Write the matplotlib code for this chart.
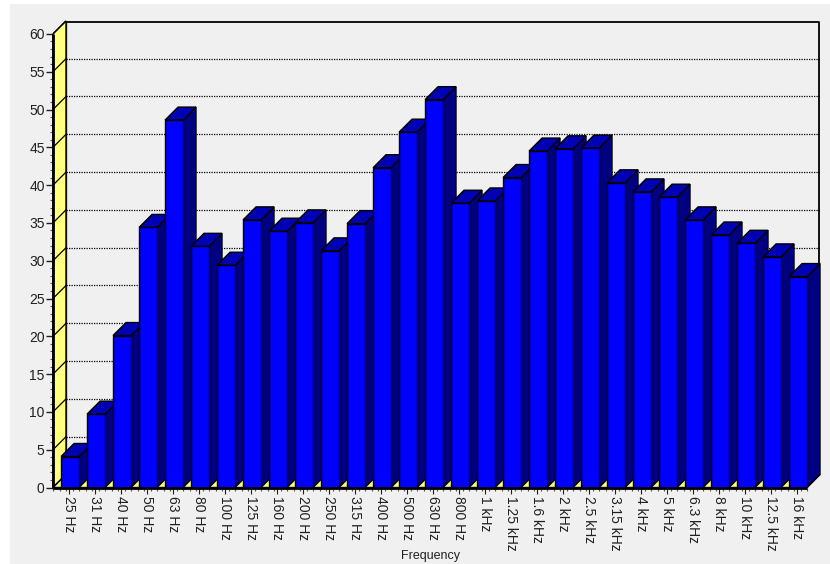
import matplotlib
matplotlib.use("Agg")
import matplotlib.pyplot as plt
from matplotlib.patches import Polygon, Rectangle

# data
bands = ["25 Hz", "31 Hz", "40 Hz", "50 Hz", "63 Hz", "80 Hz", "100 Hz", "125 Hz",
         "160 Hz", "200 Hz", "250 Hz", "315 Hz", "400 Hz", "500 Hz", "630 Hz",
         "800 Hz", "1 kHz", "1.25 kHz", "1.6 kHz", "2 kHz", "2.5 kHz", "3.15 kHz",
         "4 kHz", "5 kHz", "6.3 kHz", "8 kHz", "10 kHz", "12.5 kHz", "16 kHz"]
levels = [4.1, 9.7, 20.1, 34.4, 48.6, 31.9, 29.4, 35.4, 33.9, 35.0, 31.3, 34.9,
          42.3, 47.0, 51.3, 37.6, 37.9, 41.0, 44.5, 44.8, 44.9, 40.3, 39.1, 38.4,
          35.4, 33.4, 32.3, 30.5, 27.9]

plt.rcParams['font.family'] = ['Liberation Sans', 'DejaVu Sans']

ymax = 60
dx, dy = 0.5, 1.72      # 3d depth offset
n = len(bands)
bw = 0.69
off = 0.31

fig = plt.figure(figsize=(8.3, 5.64), dpi=100)
fig.patch.set_facecolor("white")
fig.patches.append(Rectangle((10 / 830, 0), 1, (564 - 4) / 564, transform=fig.transFigure,
                             facecolor="#f0f0f0", edgecolor="none", zorder=-10))

ax = fig.add_axes([53 / 830, (564 - 487.5) / 564, (n + dx) * 26 / 830, (ymax + dy) * 7.56 / 564])
ax.set_facecolor("none")
ax.set_xlim(0, n + dx)
ax.set_ylim(0, ymax + dy)
for s in ax.spines.values():
    s.set_visible(False)

# back wall
ax.plot([dx, n + dx - 0.02, n + dx - 0.02], [ymax + dy - 0.1, ymax + dy - 0.1, dy],
        color="black", lw=1.3, zorder=1, clip_on=False)
ax.plot([dx, dx], [dy, ymax + dy], color="#333333", lw=1, zorder=1)
for v in range(5, ymax, 5):
    ax.plot([dx, n + dx], [v + dy, v + dy], color="black", lw=0.9, ls=(0, (1, 1)), zorder=1)

# left wall and floor
ax.add_patch(Polygon([(0, 0), (0, ymax), (dx, ymax + dy), (dx, dy)], closed=True,
                     facecolor="#ffff80", edgecolor="black", lw=1, zorder=2, clip_on=False))
for v in range(0, ymax + 1, 5):
    ax.plot([0, dx], [v, v + dy], color="black", lw=0.9, zorder=2)
ax.add_patch(Polygon([(0, 0), (n, 0), (n + dx, dy), (dx, dy)], closed=True,
                     facecolor="#ffff80", edgecolor="black", lw=1, zorder=2, clip_on=False))

# bars
for i, v in enumerate(levels):
    x0 = i + off
    x1 = x0 + bw
    ax.add_patch(Polygon([(x1, 0), (x1 + dx, dy), (x1 + dx, v + dy), (x1, v)], closed=True,
                         facecolor="#000080", edgecolor="black", lw=1, zorder=3, clip_on=False))
    ax.add_patch(Polygon([(x0, v), (x1, v), (x1 + dx, v + dy), (x0 + dx, v + dy)], closed=True,
                         facecolor="#0000b4", edgecolor="black", lw=1, zorder=3, clip_on=False))
ax.bar([i + off for i in range(n)], levels, width=bw, align="edge",
       color="#0000ff", edgecolor="black", lw=1, zorder=4)

# front axes lines
ax.plot([0, 0], [0, ymax], color="black", lw=2, zorder=5, solid_capstyle="butt", clip_on=False)
ax.plot([0, n], [0, 0], color="black", lw=2, zorder=5, solid_capstyle="butt", clip_on=False)

ax.set_yticks(range(0, ymax + 1, 5))
ax.set_yticks(range(0, ymax + 1), minor=True)
ax.set_xticks([i + off + bw / 2 - 0.05 for i in range(n)])
ax.set_xticklabels(bands, rotation=270)
ax.set_xticks([i * 0.25 for i in range(4 * n + 1)], minor=True)
ax.tick_params(axis="y", which="major", length=5, width=1, pad=1, labelsize=10, colors="#202020")
ax.tick_params(axis="y", which="minor", length=2, width=0.8, colors="#555555")
ax.tick_params(axis="x", which="major", length=4, width=0.8, pad=2, labelsize=10, colors="#202020")
ax.tick_params(axis="x", which="minor", length=2, width=0.8, colors="#555555")
for t in ax.get_xticklabels():
    t.set_va("top")
    t.set_ha("center")

fig.text(430 / 830, (564 - 556) / 564, "Frequency", ha="center", va="center", fontsize=9, color="#202020")

fig.savefig("out.png", dpi=100)
